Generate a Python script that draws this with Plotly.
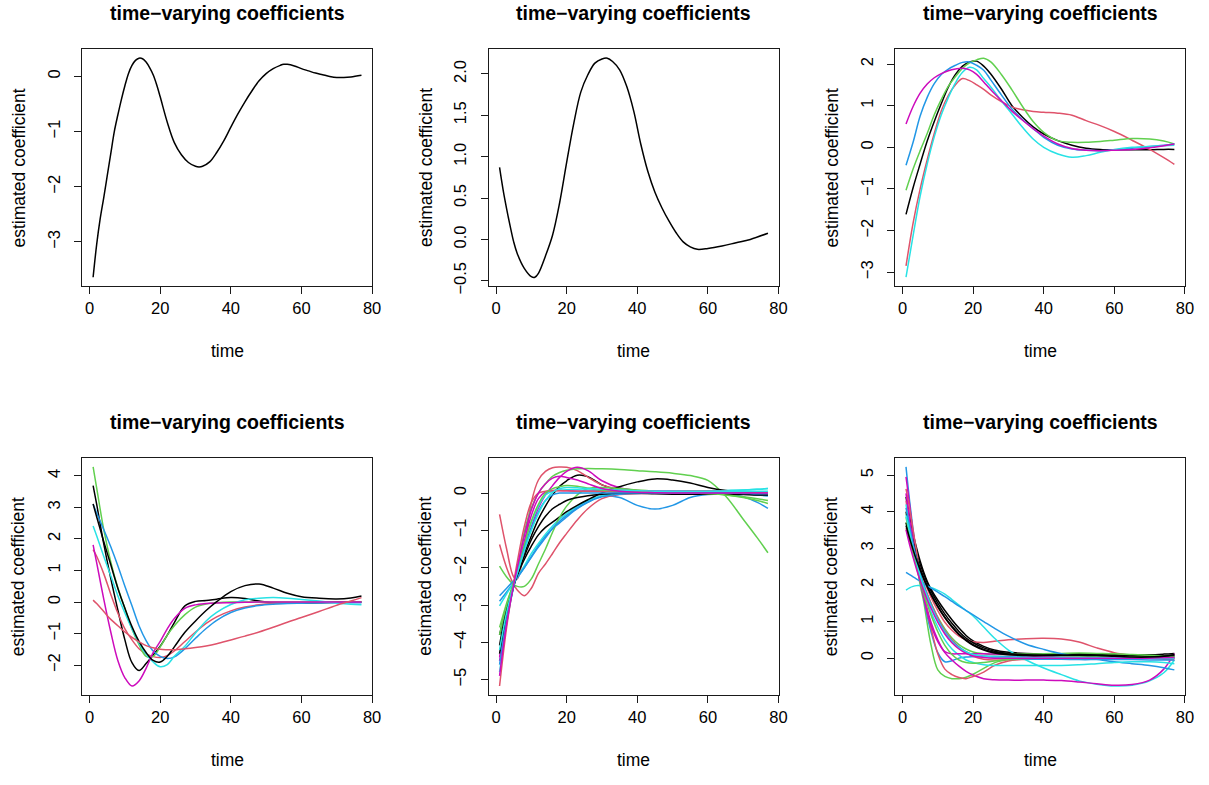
import plotly.graph_objects as go

# ---------------- data ----------------
COLORS = ["#000000", "#DF536B", "#61D04F", "#2297E6", "#28E2E5", "#CD0BBC"]

TITLE = "time\u2212varying coefficients"
XLAB = "time"
YLAB = "estimated coefficient"
X_TICKS = [0, 20, 40, 60, 80]

# panel 1
T1 = [1, 2, 3, 4, 5, 6, 7, 8, 9, 10, 11, 12, 13, 14, 15, 16, 17, 18, 19, 20, 22, 24, 26, 28, 30, 31, 32, 34, 36, 38,
      40, 42, 44, 46, 48, 50, 52, 54, 55, 56, 58, 60, 62, 64, 66, 68, 70, 72, 74, 77]
P1_BLACK = [-3.64, -3.05, -2.58, -2.2, -1.8, -1.4, -1.0, -0.7, -0.42, -0.17, 0.05, 0.2, 0.29, 0.33, 0.32, 0.26, 0.16,
            0.03, -0.15, -0.37, -0.83, -1.2, -1.42, -1.56, -1.63, -1.64, -1.63, -1.55, -1.38, -1.17,
            -0.92, -0.68, -0.46, -0.26, -0.08, 0.05, 0.14, 0.2, 0.22, 0.22, 0.19, 0.14, 0.1, 0.06, 0.03, 0.0, -0.02,
            -0.02, -0.01, 0.02]
Y_TICKS_1 = [-3, -2, -1, 0]

# panel 2
T2 = [1, 2, 3, 4, 5, 6, 8, 10, 11, 12, 14, 16, 18, 20, 22, 24, 26, 28, 30, 31.5, 33, 35, 37, 39, 41, 43, 45, 47, 49,
      51, 53, 55, 57, 60, 64, 68, 72, 77]
P2_BLACK = [0.87, 0.6, 0.37, 0.16, -0.03, -0.17, -0.35, -0.45, -0.457, -0.41, -0.2, 0.05, 0.44, 0.93, 1.4, 1.78, 1.99,
            2.13, 2.18, 2.19, 2.15, 2.05, 1.85, 1.55, 1.15, 0.82, 0.57, 0.38, 0.22, 0.08, -0.03, -0.09, -0.12, -0.11,
            -0.08, -0.04, 0.0, 0.075]
Y_TICKS_2 = [-0.5, 0.0, 0.5, 1.0, 1.5, 2.0]

# panel 3
T3 = [1, 3, 5, 7, 9, 11, 13, 15, 17, 19, 21, 23, 25, 28, 31, 34, 37, 40, 44, 48, 52, 56, 60, 65, 70, 74, 77]
P3_BLACK = [-1.61, -0.97, -0.4, 0.15, 0.62, 1.05, 1.45, 1.75, 1.95, 2.05, 2.07, 1.95, 1.76, 1.4, 1.0, 0.72, 0.49, 0.32,
            0.16, 0.05, -0.02, -0.05, -0.06, -0.06, -0.06, -0.05, -0.05]
P3_RED = [-2.85, -1.82, -1.0, -0.3, 0.33, 0.88, 1.25, 1.5, 1.65, 1.6, 1.5, 1.39, 1.26, 1.1, 0.97, 0.9, 0.86, 0.84,
          0.82, 0.77, 0.64, 0.52, 0.38, 0.17, -0.05, -0.25, -0.41]
P3_GREEN = [-1.03, -0.52, -0.08, 0.33, 0.78, 1.15, 1.47, 1.7, 1.9, 2.03, 2.1, 2.14, 2.05, 1.75, 1.38, 0.98, 0.62, 0.36,
            0.16, 0.12, 0.12, 0.14, 0.17, 0.21, 0.2, 0.15, 0.08]
P3_BLUE = [-0.43, 0.12, 0.75, 1.2, 1.53, 1.75, 1.88, 1.97, 2.04, 2.05, 1.97, 1.85, 1.62, 1.26, 0.92, 0.66, 0.45, 0.24,
           0.05, -0.04, -0.07, -0.08, -0.06, -0.02, 0.02, 0.05, 0.08]
P3_CYAN = [-3.12, -2.12, -1.17, -0.4, 0.25, 0.78, 1.2, 1.55, 1.8, 1.92, 1.86, 1.65, 1.45, 1.12, 0.8, 0.48, 0.2, 0.0,
           -0.16, -0.24, -0.2, -0.12, -0.05, 0.0, 0.02, 0.04, 0.05]
P3_MAGENTA = [0.56, 0.98, 1.3, 1.52, 1.67, 1.77, 1.84, 1.88, 1.9, 1.86, 1.75, 1.57, 1.38, 1.12, 0.87, 0.65, 0.45, 0.27,
              0.08, -0.03, -0.07, -0.08, -0.07, -0.05, -0.01, 0.04, 0.08]
Y_TICKS_3 = [-3, -2, -1, 0, 1, 2]

# panel 4
T4 = [1, 2, 4, 6, 8, 10, 12, 14, 16, 18, 20, 22, 24, 27, 30, 33, 36, 40, 44, 48, 52, 56, 60, 65, 70, 74, 77]
P4_BLACK_A = [3.69, 3.1, 1.85, 0.75, -0.25, -1.2, -1.92, -2.17, -1.95, -1.68, -1.4, -1.05, -0.65, -0.12, 0.02, 0.05,
              0.09, 0.14, 0.11, 0.03, -0.03, -0.04, -0.04, -0.02, -0.01, 0.0, 0.0]
P4_RED_A = [1.66, 1.45, 0.9, 0.25, -0.35, -0.85, -1.2, -1.48, -1.64, -1.73, -1.76, -1.7, -1.55, -1.25, -0.95, -0.68,
            -0.47, -0.28, -0.16, -0.09, -0.05, -0.03, -0.02, -0.01, 0.0, 0.0, 0.0]
P4_GREEN = [4.28, 3.62, 2.3, 1.27, 0.45, -0.2, -0.85, -1.35, -1.72, -1.72, -1.42, -1.05, -0.75, -0.4, -0.16, -0.06,
            -0.02, 0.0, 0.0, 0.0, 0.0, 0.0, 0.0, 0.0, 0.0, 0.0, 0.0]
P4_BLUE = [3.1, 2.82, 2.3, 1.75, 1.15, 0.5, -0.12, -0.75, -1.22, -1.55, -1.72, -1.79, -1.74, -1.48, -1.15, -0.84,
           -0.58, -0.33, -0.19, -0.11, -0.07, -0.05, -0.04, -0.03, -0.02, -0.02, -0.02]
P4_CYAN = [2.41, 2.1, 1.45, 0.83, 0.2, -0.35, -0.85, -1.3, -1.65, -1.9, -2.05, -1.98, -1.72, -1.4, -0.98, -0.6,
           -0.33, -0.08, 0.07, 0.12, 0.14, 0.12, 0.08, 0.03, -0.03, -0.07, -0.09]
P4_MAGENTA = [1.81, 1.25, 0.1, -0.95, -1.85, -2.4, -2.66, -2.5, -2.1, -1.6, -1.25, -0.85, -0.52, -0.2, -0.09, -0.05,
              -0.03, -0.02, -0.01, 0.0, 0.0, 0.0, 0.0, 0.0, 0.0, 0.0, 0.0]
P4_BLACK_B = [3.11, 2.7, 1.92, 1.18, 0.44, -0.2, -0.78, -1.25, -1.6, -1.85, -1.9, -1.72, -1.42, -0.96, -0.6, -0.27,
              0.01, 0.33, 0.52, 0.57, 0.44, 0.28, 0.17, 0.12, 0.1, 0.13, 0.19]
P4_RED_B = [0.06, -0.05, -0.3, -0.55, -0.75, -0.95, -1.12, -1.26, -1.38, -1.45, -1.5, -1.51, -1.51, -1.48, -1.44, -1.39,
            -1.32, -1.2, -1.08, -0.95, -0.8, -0.64, -0.49, -0.3, -0.1, 0.03, 0.14]
Y_TICKS_4 = [-2, -1, 0, 1, 2, 3, 4]

# panel 5
T5 = [1, 3, 5, 6, 8, 10, 12, 14, 16, 18, 20, 23, 26, 30, 35, 40, 45, 50, 55, 60, 65, 70, 74, 77]
P5_BLACK_1 = [-4.08, -3.1, -2.45, -2.15, -1.62, -1.15, -0.7, -0.35, -0.05, 0.18, 0.33, 0.48, 0.44, 0.22, 0.08, 0.04,
              0.03, 0.03, 0.03, 0.02, 0.0, -0.02, -0.04, -0.05]
P5_RED_1 = [-0.57, -1.5, -2.25, -2.3, -1.5, -0.25, 0.35, 0.58, 0.68, 0.7, 0.69, 0.6, 0.43, 0.22, 0.1, 0.03,
            0.02, 0.03, 0.05, 0.05, 0.04, 0.03, 0.0, -0.02]
P5_GREEN_1 = [-3.6, -2.95, -2.4, -2.05, -1.05, -0.4, 0.0, 0.25, 0.45, 0.55, 0.61, 0.65, 0.66, 0.65, 0.63, 0.6,
              0.57, 0.53, 0.47, 0.34, -0.08, -0.7, -1.2, -1.6]
P5_BLUE_1 = [-2.9, -2.65, -2.4, -2.28, -2.0, -1.7, -1.4, -1.15, -0.95, -0.8, -0.64, -0.42, -0.25, -0.08, -0.12, -0.33,
             -0.43, -0.33, -0.12, -0.04, -0.03, -0.1, -0.25, -0.41]
P5_CYAN_1 = [-3.02, -2.7, -2.4, -2.25, -1.95, -1.62, -1.35, -1.1, -0.88, -0.7, -0.55, -0.36, -0.2, -0.07, 0.0, 0.02,
             0.03, 0.04, 0.05, 0.06, 0.07, 0.08, 0.1, 0.12]
P5_MAGENTA_1 = [-4.4, -3.3, -2.5, -2.15, -1.5, -0.9, -0.4, -0.05, 0.2, 0.42, 0.58, 0.69, 0.6, 0.33, 0.14, 0.07,
                0.05, 0.05, 0.04, 0.03, 0.02, 0.0, -0.02, -0.03]
P5_BLACK_2 = [-3.8, -3.05, -2.45, -2.2, -1.78, -1.42, -1.12, -0.92, -0.78, -0.64, -0.5, -0.33, -0.18, 0.0, 0.17, 0.3,
              0.38, 0.35, 0.27, 0.15, 0.07, 0.03, 0.0, -0.02]
P5_RED_2 = [-1.38, -2.0, -2.45, -2.6, -2.75, -2.55, -2.15, -1.9, -1.62, -1.33, -1.08, -0.72, -0.42, -0.15, -0.04, -0.02,
            0.0, 0.02, 0.03, 0.03, 0.02, 0.0, -0.02, -0.05]
P5_GREEN_2 = [-1.96, -2.25, -2.45, -2.5, -2.5, -2.3, -1.9, -1.5, -1.05, -0.65, -0.35, -0.05, 0.12, 0.15, 0.12, 0.08,
              0.05, 0.03, 0.02, 0.0, -0.05, -0.12, -0.2, -0.28]
P5_BLUE_2 = [-2.75, -2.55, -2.35, -2.25, -2.0, -1.72, -1.45, -1.2, -0.95, -0.76, -0.6, -0.4, -0.24, -0.1, -0.03, -0.01,
             0.0, 0.0, 0.0, 0.0, 0.0, -0.02, -0.05, -0.08]
P5_CYAN_2 = [-4.8, -3.5, -2.5, -2.1, -1.4, -0.8, -0.35, -0.05, 0.05, 0.08, 0.09, 0.09, 0.08, 0.07, 0.06, 0.05,
             0.05, 0.05, 0.05, 0.05, 0.06, 0.08, 0.1, 0.12]
P5_MAGENTA_2 = [-4.5, -3.4, -2.45, -2.05, -1.3, -0.6, -0.15, 0.03, 0.07, 0.07, 0.06, 0.05, 0.05, 0.05, 0.05, 0.05,
                0.05, 0.05, 0.05, 0.05, 0.04, 0.03, 0.02, 0.0]
P5_BLACK_3 = [-4.3, -3.3, -2.5, -2.2, -1.7, -1.25, -0.9, -0.62, -0.42, -0.3, -0.2, -0.12, -0.07, -0.03, 0.0, 0.0,
              -0.02, -0.03, -0.03, -0.03, -0.03, -0.04, -0.05, -0.05]
P5_RED_3 = [-5.17, -3.6, -2.4, -1.85, -0.9, -0.25, 0.0, 0.05, 0.06, 0.06, 0.06, 0.05, 0.05, 0.04, 0.03, 0.03,
            0.03, 0.04, 0.05, 0.05, 0.04, 0.03, 0.02, 0.0]
P5_GREEN_3 = [-3.8, -3.0, -2.4, -2.1, -1.4, -0.75, -0.3, 0.0, 0.12, 0.17, 0.2, 0.18, 0.13, 0.08, 0.05, 0.03,
              0.02, 0.01, 0.0, -0.02, -0.05, -0.1, -0.15, -0.2]
P5_BLUE_3 = [-4.6, -3.4, -2.5, -2.15, -1.5, -0.95, -0.5, -0.2, -0.05, 0.0, 0.0, 0.0, 0.0, 0.0, 0.0, 0.0,
             0.0, 0.0, 0.0, 0.0, 0.0, -0.01, -0.02, -0.02]
P5_CYAN_3 = [-4.2, -3.2, -2.45, -2.15, -1.55, -1.0, -0.55, -0.2, 0.02, 0.12, 0.15, 0.14, 0.12, 0.1, 0.08, 0.06,
             0.05, 0.05, 0.05, 0.05, 0.05, 0.05, 0.05, 0.05]
P5_MAGENTA_3 = [-4.9, -3.5, -2.45, -2.0, -1.15, -0.45, 0.0, 0.25, 0.4, 0.45, 0.42, 0.35, 0.25, 0.12, 0.05, 0.02,
                0.01, 0.0, 0.0, 0.0, 0.0, 0.0, 0.0, 0.0]
Y_TICKS_5 = [-5, -4, -3, -2, -1, 0]

# panel 6
T6 = [1, 2, 3, 4, 5, 6, 7, 8, 10, 12, 14, 16, 18, 20, 23, 26, 30, 35, 40, 45, 50, 55, 60, 65, 70, 74, 77]
P6_BLACK_1 = [4.4, 3.85, 3.4, 3.0, 2.65, 2.35, 2.1, 1.9, 1.58, 1.3, 1.05, 0.82, 0.62, 0.47, 0.32, 0.22, 0.16, 0.13,
              0.12, 0.12, 0.12, 0.11, 0.09, 0.08, 0.09, 0.11, 0.13]
P6_RED_1 = [4.3, 3.7, 3.2, 2.8, 2.45, 2.15, 1.9, 1.68, 1.3, 0.98, 0.76, 0.6, 0.5, 0.45, 0.43, 0.46, 0.5, 0.53,
            0.54, 0.52, 0.44, 0.28, 0.15, 0.08, 0.04, 0.02, 0.0]
P6_GREEN_1 = [3.95, 3.6, 3.15, 2.6, 2.0, 1.55, 0.95, 0.4, -0.32, -0.5, -0.56, -0.56, -0.52, -0.44, -0.28, -0.13, -0.04, 0.0,
              0.02, 0.04, 0.06, 0.08, 0.08, 0.07, 0.05, 0.03, 0.02]
P6_BLUE_1 = [5.22, 4.3, 3.5, 2.8, 2.2, 1.65, 1.15, 0.75, 0.15, -0.1, -0.07, 0.0, 0.03, 0.04, 0.05, 0.05, 0.04, 0.03,
             0.02, 0.02, 0.02, 0.02, 0.02, 0.02, 0.02, 0.02, 0.02]
P6_CYAN_1 = [1.86, 1.92, 1.96, 1.98, 1.98, 1.98, 1.96, 1.93, 1.85, 1.75, 1.6, 1.45, 1.3, 1.15, 0.85, 0.55, 0.22, -0.05,
             -0.27, -0.45, -0.62, -0.71, -0.76, -0.74, -0.62, -0.4, -0.05]
P6_MAGENTA_1 = [4.95, 4.2, 3.4, 2.75, 2.2, 1.75, 1.35, 1.0, 0.5, 0.15, -0.05, -0.22, -0.36, -0.46, -0.56, -0.59, -0.6, -0.6,
                -0.6, -0.61, -0.65, -0.7, -0.74, -0.72, -0.6, -0.3, 0.12]
P6_BLACK_2 = [4.0, 3.58, 3.2, 2.86, 2.56, 2.3, 2.06, 1.85, 1.5, 1.2, 0.95, 0.73, 0.55, 0.42, 0.28, 0.19, 0.13, 0.1,
              0.09, 0.1, 0.1, 0.1, 0.08, 0.06, 0.05, 0.06, 0.08]
P6_RED_2 = [4.62, 4.1, 3.5, 2.9, 2.3, 1.75, 1.25, 0.85, 0.12, -0.3, -0.45, -0.53, -0.56, -0.5, -0.38, -0.2, -0.08, -0.03,
            0.0, 0.01, 0.01, 0.01, 0.01, 0.0, 0.0, 0.0, 0.0]
P6_GREEN_2 = [3.7, 3.3, 2.95, 2.6, 2.3, 2.0, 1.75, 1.52, 1.12, 0.8, 0.55, 0.37, 0.25, 0.17, 0.12, 0.1, 0.1, 0.11,
              0.12, 0.13, 0.14, 0.13, 0.12, 0.1, 0.08, 0.06, 0.05]
P6_BLUE_2 = [2.34, 2.28, 2.22, 2.16, 2.1, 2.04, 1.98, 1.92, 1.8, 1.68, 1.55, 1.42, 1.3, 1.18, 1.0, 0.82, 0.6, 0.38,
             0.24, 0.12, 0.04, -0.03, -0.1, -0.15, -0.2, -0.26, -0.32]
P6_CYAN_2 = [4.2, 3.6, 3.05, 2.6, 2.2, 1.85, 1.55, 1.28, 0.85, 0.5, 0.25, 0.08, -0.05, -0.12, -0.18, -0.2, -0.2, -0.2,
             -0.2, -0.2, -0.18, -0.15, -0.12, -0.1, -0.1, -0.12, -0.15]
P6_MAGENTA_2 = [4.5, 3.8, 3.15, 2.6, 2.1, 1.65, 1.25, 0.92, 0.45, 0.18, 0.12, 0.12, 0.12, 0.12, 0.12, 0.11, 0.1, 0.07,
                0.04, 0.02, 0.02, 0.02, 0.02, 0.02, 0.01, 0.0, 0.0]
P6_BLACK_3 = [3.7, 3.35, 3.02, 2.72, 2.45, 2.2, 1.97, 1.77, 1.42, 1.12, 0.87, 0.66, 0.5, 0.37, 0.24, 0.16, 0.11, 0.09,
              0.08, 0.08, 0.08, 0.07, 0.06, 0.05, 0.04, 0.05, 0.06]
P6_RED_3 = [3.55, 3.2, 2.85, 2.55, 2.27, 2.0, 1.75, 1.52, 1.1, 0.75, 0.5, 0.3, 0.15, 0.05, -0.03, -0.05, -0.04, -0.02,
            0.0, 0.02, 0.03, 0.03, 0.03, 0.02, 0.0, -0.03, -0.05]
P6_GREEN_3 = [3.85, 3.35, 2.9, 2.48, 2.1, 1.77, 1.47, 1.2, 0.72, 0.35, 0.1, -0.05, -0.12, -0.14, -0.12, -0.08, -0.04, -0.02,
              0.0, 0.02, 0.03, 0.04, 0.04, 0.03, 0.02, 0.02, 0.03]
P6_BLUE_3 = [4.1, 3.6, 3.12, 2.7, 2.33, 2.0, 1.72, 1.48, 1.05, 0.72, 0.47, 0.3, 0.18, 0.1, 0.05, 0.02, 0.0, -0.02,
             -0.03, -0.03, -0.04, -0.04, -0.04, -0.04, -0.05, -0.05, -0.05]
P6_CYAN_3 = [3.9, 3.45, 3.0, 2.6, 2.25, 1.95, 1.68, 1.45, 1.02, 0.7, 0.45, 0.28, 0.17, 0.1, 0.05, 0.03, 0.02, 0.02,
             0.02, 0.02, 0.02, 0.02, 0.01, 0.01, 0.0, 0.0, 0.0]
P6_MAGENTA_3 = [3.5, 3.1, 2.75, 2.42, 2.12, 1.85, 1.6, 1.38, 0.98, 0.66, 0.42, 0.25, 0.13, 0.06, 0.02, 0.0, 0.0, 0.0,
                0.0, 0.0, 0.0, 0.0, 0.0, 0.0, 0.0, 0.01, 0.02]
P6_BLACK_4 = [3.62, 3.28, 2.96, 2.67, 2.41, 2.17, 1.95, 1.75, 1.4, 1.1, 0.85, 0.64, 0.48, 0.35, 0.22, 0.14, 0.09, 0.07,
              0.07, 0.08, 0.08, 0.07, 0.05, 0.03, 0.03, 0.05, 0.1]
Y_TICKS_6 = [-1, 0, 1, 2, 3, 4, 5]

PANELS = [
    (T1, [P1_BLACK], Y_TICKS_1, 0),
    (T2, [P2_BLACK], Y_TICKS_2, 1),
    (T3, [P3_BLACK, P3_RED, P3_GREEN, P3_BLUE, P3_CYAN, P3_MAGENTA], Y_TICKS_3, 0),
    (T4, [P4_BLACK_A, P4_RED_A, P4_GREEN, P4_BLUE, P4_CYAN, P4_MAGENTA, P4_BLACK_B, P4_RED_B], Y_TICKS_4, 0),
    (T5, [P5_BLACK_1, P5_RED_1, P5_GREEN_1, P5_BLUE_1, P5_CYAN_1, P5_MAGENTA_1,
          P5_BLACK_2, P5_RED_2, P5_GREEN_2, P5_BLUE_2, P5_CYAN_2, P5_MAGENTA_2,
          P5_BLACK_3, P5_RED_3, P5_GREEN_3, P5_BLUE_3, P5_CYAN_3, P5_MAGENTA_3], Y_TICKS_5, 0),
    (T6, [P6_BLACK_1, P6_RED_1, P6_GREEN_1, P6_BLUE_1, P6_CYAN_1, P6_MAGENTA_1,
          P6_BLACK_2, P6_RED_2, P6_GREEN_2, P6_BLUE_2, P6_CYAN_2, P6_MAGENTA_2,
          P6_BLACK_3, P6_RED_3, P6_GREEN_3, P6_BLUE_3, P6_CYAN_3, P6_MAGENTA_3, P6_BLACK_4], Y_TICKS_6, 0),
]

# ---------------- layout geometry (pixels) ----------------
W, H = 1209, 785
COL_LEFT = [83, 492.5, 902]
BOX_W = 292
ROW_TOP = [50, 463.5]
BOX_H = 239.3
FONT = "Liberation Sans, Arial, sans-serif"
TICK_SIZE = 16.5
LAB_SIZE = 17.5
TITLE_SIZE = 19.5


def padded(lo, hi):
    p = 0.04 * (hi - lo)
    return [lo - p, hi + p]


def fmt(v, dec):
    s = f"{abs(v):.{dec}f}"
    return ("\u2212" + s) if v < 0 else s


fig = go.Figure()
layout = dict(width=W, height=H, margin=dict(l=0, r=0, t=0, b=0),
              paper_bgcolor="white", plot_bgcolor="white", showlegend=False,
              font=dict(family=FONT, color="black"))
annotations = []

for i, (t, series, yticks, dec) in enumerate(PANELS):
    r, c = divmod(i, 3)
    k = "" if i == 0 else str(i + 1)
    left = COL_LEFT[c]
    top = ROW_TOP[r]
    xd = [left / W, (left + BOX_W) / W]
    yd = [1 - (top + BOX_H) / H, 1 - top / H]
    lo = min(min(s) for s in series)
    hi = max(max(s) for s in series)
    for j, s in enumerate(series):
        fig.add_trace(go.Scatter(x=t, y=s, mode="lines", xaxis="x" + k, yaxis="y" + k,
                                 line=dict(color=COLORS[j % 6], width=1.5, shape="spline", smoothing=1.0),
                                 hoverinfo="skip"))
    common = dict(showline=True, mirror=True, linecolor="#1a1a1a", linewidth=1.2,
                  ticks="outside", ticklen=7, tickwidth=1.1, tickcolor="#1a1a1a",
                  showgrid=False, zeroline=False, tickfont=dict(family=FONT, size=TICK_SIZE, color="black"))
    layout["xaxis" + k] = dict(domain=xd, anchor="y" + k, range=padded(min(t), max(t)),
                               tickvals=X_TICKS, ticktext=[str(v) for v in X_TICKS], **common)
    layout["yaxis" + k] = dict(domain=yd, anchor="x" + k, range=padded(lo, hi),
                               tickvals=yticks, ticktext=[fmt(v, dec) for v in yticks],
                               tickangle=-90, ticklabelstandoff=8, **common)
    cx = (left + BOX_W / 2) / W
    annotations.append(dict(text="<b>" + TITLE + "</b>", x=cx, y=1 - (top - 37) / H,
                            xref="paper", yref="paper", showarrow=False, xanchor="center", yanchor="middle",
                            font=dict(family=FONT, size=TITLE_SIZE, color="black")))
    annotations.append(dict(text=XLAB, x=cx, y=1 - (top + BOX_H + 66) / H,
                            xref="paper", yref="paper", showarrow=False, xanchor="center", yanchor="middle",
                            font=dict(family=FONT, size=LAB_SIZE, color="black")))
    annotations.append(dict(text=YLAB, x=(left - 64) / W, y=1 - (top + BOX_H / 2) / H, textangle=-90,
                            xref="paper", yref="paper", showarrow=False, xanchor="center", yanchor="middle",
                            font=dict(family=FONT, size=LAB_SIZE, color="black")))

layout["annotations"] = annotations
fig.update_layout(**layout)
fig.write_html("out.html")
